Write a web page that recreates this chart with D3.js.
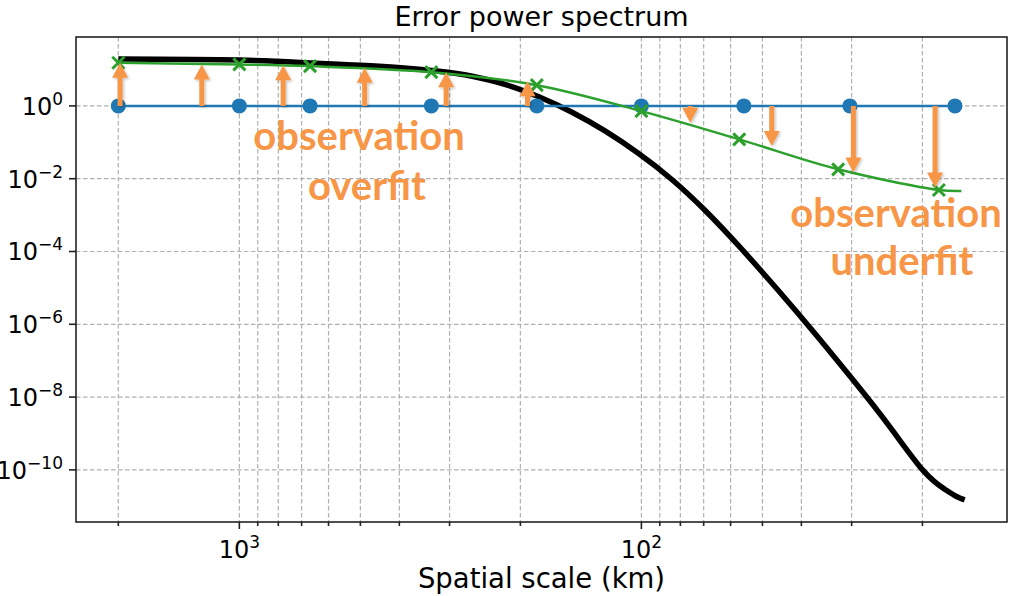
<!DOCTYPE html>
<html>
<head>
<meta charset="utf-8">
<script src="https://cdn.jsdelivr.net/npm/d3@7"></script>
<style>
  body { margin: 0; background: #fff; }
  svg { display: block; }
</style>
</head>
<body>
<svg id="chart" width="1009" height="596"></svg>
<script>
// ---- Data: spatial scale (km) and error power ----

// True error spectrum (black curve)
const trueScaleKm = [2000, 1000, 658, 449, 319, 263.5, 217.6, 179.9, 148.8, 122.9, 101.6, 84.0, 69.4, 57.4, 45.7, 36.75, 29.4, 24.1, 19.9, 17.6, 16.5, 15.7];
const truePower   = [19.4, 18.2, 15.1, 12.3, 8.97, 6.54, 3.87, 1.78, 0.671, 0.202, 0.0493, 9.53e-3, 1.34e-3, 1.47e-4, 8.65e-6, 5.09e-7, 2.51e-8, 1.52e-9, 9.5e-11, 2.93e-11, 1.88e-11, 1.49e-11];

// Observation error spectrum (blue, flat)
const obsScaleKm = [2000, 1000, 667, 333, 182, 100, 55.6, 30.3, 16.6];
const obsPower   = [1, 1, 1, 1, 1, 1, 1, 1, 1];

// Fitted spectrum (green curve and sampled points)
const fitCurveKm    = [2000, 1000, 667, 333, 182, 100, 57.1, 32.4, 18.2, 16.0];
const fitCurvePower = [15.3, 13.8, 12.4, 8.46, 3.72, 0.72, 0.1205, 0.0181, 0.0049, 0.0046];
const fitPointKm    = [2000, 1000, 667, 333, 182, 100, 57.1, 32.4, 18.2];
const fitPointPower = [15.3, 13.8, 12.4, 8.46, 3.72, 0.72, 0.1205, 0.0181, 0.0049];

// Arrows from the observation level to the fitted level
const arrowKm     = [1980, 1240, 778, 488, 306, 192, 75.6, 47.4, 29.7, 18.6];
const arrowTarget = [15.3, 13.8, 13.2, 11.2, 8.46, 4.79, 0.346, 0.0789, 0.0147, 0.0057];

// Ticks
const xMajorTicks = [1000, 100];
const xMajorExp   = ["3", "2"];
const xMinorTicks = [2000, 900, 800, 700, 600, 500, 400, 300, 200, 90, 80, 70, 60, 50, 40, 30, 20];
const yTicks      = [1, 1e-2, 1e-4, 1e-6, 1e-8, 1e-10];
const yTickExp    = ["0", "\u22122", "\u22124", "\u22126", "\u22128", "\u221210"];

const titleText  = "Error power spectrum";
const xLabelText = "Spatial scale (km)";
const overfitLines  = ["observation", "overfit"];
const underfitLines = ["observation", "underfit"];

// ---- Layout ----
const plot = { left: 76, right: 1007, top: 37, bottom: 522 };
const ORANGE = "#F79646";
const BLUE = "#1f77b4";
const GREEN = "#2ca02c";
const GRID = "#b0b0b0";
const FONT = "'DejaVu Sans', sans-serif";

const svg = d3.select("#chart");

// Log-space padding of 5% on each side of the data extent
function paddedLogDomain(values) {
  const lo = Math.log10(d3.min(values)), hi = Math.log10(d3.max(values));
  const pad = (hi - lo) * 0.05;
  return [Math.pow(10, lo - pad), Math.pow(10, hi + pad)];
}
const xd = paddedLogDomain(trueScaleKm);
const yd = paddedLogDomain(truePower);

// Spatial scale decreases to the right
const x = d3.scaleLog().domain([xd[1], xd[0]]).range([plot.left, plot.right]);
const y = d3.scaleLog().domain([yd[0], yd[1]]).range([plot.bottom, plot.top]);

// Shadow for the annotation arrows
const defs = svg.append("defs");
const shadow = defs.append("filter").attr("id", "arrowShadow")
  .attr("x", "-50%").attr("y", "-20%").attr("width", "200%").attr("height", "140%");
shadow.append("feDropShadow").attr("dx", 1.5).attr("dy", 1.5)
  .attr("stdDeviation", 1.2).attr("flood-color", "#000").attr("flood-opacity", 0.22);
defs.append("clipPath").attr("id", "plotClip").append("rect")
  .attr("x", plot.left).attr("y", plot.top)
  .attr("width", plot.right - plot.left).attr("height", plot.bottom - plot.top);

// ---- Grid ----
const grid = svg.append("g").attr("stroke", GRID).attr("stroke-width", 1.2)
  .attr("stroke-dasharray", "4.5,2.5").attr("fill", "none");
xMajorTicks.concat(xMinorTicks).forEach(v => {
  grid.append("line").attr("x1", x(v)).attr("x2", x(v))
    .attr("y1", plot.top).attr("y2", plot.bottom);
});
yTicks.forEach(v => {
  grid.append("line").attr("x1", plot.left).attr("x2", plot.right)
    .attr("y1", y(v)).attr("y2", y(v));
});

// ---- Series ----
const series = svg.append("g").attr("clip-path", "url(#plotClip)");
const smoothNatural = d3.line().curve(d3.curveNatural);
const smooth = d3.line().curve(d3.curveCatmullRom.alpha(0.5));

function toPts(kms, vals) {
  return kms.map((k, i) => [x(k), y(vals[i])]).sort((a, b) => a[0] - b[0]);
}

series.append("path")
  .attr("d", smoothNatural(toPts(trueScaleKm, truePower)))
  .attr("fill", "none").attr("stroke", "#000").attr("stroke-width", 5.5)
  .attr("stroke-linejoin", "round");

series.append("path")
  .attr("d", d3.line()(toPts(obsScaleKm, obsPower)))
  .attr("fill", "none").attr("stroke", BLUE).attr("stroke-width", 2.5);
series.selectAll("circle.obs").data(obsScaleKm).join("circle")
  .attr("class", "obs")
  .attr("cx", d => x(d)).attr("cy", (d, i) => y(obsPower[i])).attr("r", 7.5)
  .attr("fill", BLUE);

series.append("path")
  .attr("d", smooth(toPts(fitCurveKm, fitCurvePower)))
  .attr("fill", "none").attr("stroke", GREEN).attr("stroke-width", 2.5);
const mk = 6;
fitPointKm.forEach((k, i) => {
  const cx = x(k), cy = y(fitPointPower[i]);
  series.append("path")
    .attr("d", `M${cx - mk},${cy - mk}L${cx + mk},${cy + mk}M${cx - mk},${cy + mk}L${cx + mk},${cy - mk}`)
    .attr("stroke", GREEN).attr("stroke-width", 3).attr("fill", "none");
});

// ---- Arrows ----
const arrows = svg.append("g").attr("filter", "url(#arrowShadow)");
const shaftHalf = 2.5, headHalf = 8, headLen = 15;
arrowKm.forEach((k, i) => {
  const ax = x(k), y0 = y(obsPower[0]), y1 = y(arrowTarget[i]);
  const dir = y1 < y0 ? -1 : 1;              // -1: pointing up
  const len = Math.abs(y1 - y0);
  const hl = Math.min(headLen, len);
  const yh = y1 - dir * hl;                   // base of the head
  const pts = [
    [ax - shaftHalf, y0], [ax - shaftHalf, yh], [ax - headHalf, yh],
    [ax, y1], [ax + headHalf, yh], [ax + shaftHalf, yh], [ax + shaftHalf, y0]
  ];
  arrows.append("path").attr("d", "M" + pts.map(p => p.join(",")).join("L") + "Z")
    .attr("fill", ORANGE);
});

// ---- Axes frame and ticks ----
const axes = svg.append("g").attr("stroke", "#222").attr("stroke-width", 1.6);
axes.append("rect").attr("x", plot.left).attr("y", plot.top)
  .attr("width", plot.right - plot.left).attr("height", plot.bottom - plot.top)
  .attr("fill", "none");
xMajorTicks.forEach(v => axes.append("line").attr("x1", x(v)).attr("x2", x(v))
  .attr("y1", plot.bottom).attr("y2", plot.bottom + 7));
xMinorTicks.forEach(v => axes.append("line").attr("x1", x(v)).attr("x2", x(v))
  .attr("y1", plot.bottom).attr("y2", plot.bottom + 4));
yTicks.forEach(v => axes.append("line").attr("x1", plot.left - 7).attr("x2", plot.left)
  .attr("y1", y(v)).attr("y2", y(v)));

// Tick labels (10 with superscript exponent)
const TICK_FS = 24, SUP_FS = 17;
function powLabel(g, tx, ty, exp, anchor) {
  const t = g.append("text").attr("x", tx).attr("y", ty)
    .attr("text-anchor", anchor).attr("font-family", FONT)
    .attr("font-size", TICK_FS).attr("fill", "#000");
  t.append("tspan").text("10");
  t.append("tspan").attr("dy", -10).attr("font-size", SUP_FS).text(exp);
  return t;
}
const labels = svg.append("g");
xMajorTicks.forEach((v, i) => powLabel(labels, x(v), plot.bottom + 36, xMajorExp[i], "middle"));
yTicks.forEach((v, i) => powLabel(labels, plot.left - 13, y(v) + 9, yTickExp[i], "end"));

svg.append("text").attr("x", (plot.left + plot.right) / 2).attr("y", 26)
  .attr("text-anchor", "middle").attr("font-family", FONT).attr("font-size", 27)
  .attr("fill", "#000").text(titleText);
svg.append("text").attr("x", (plot.left + plot.right) / 2).attr("y", 588)
  .attr("text-anchor", "middle").attr("font-family", FONT).attr("font-size", 27.5)
  .attr("fill", "#000").text(xLabelText);

// ---- Annotations ----
function annotate(lines, cx, baselines, offsets) {
  lines.forEach((s, i) => {
    svg.append("text").attr("x", cx + offsets[i]).attr("y", baselines[i])
      .attr("text-anchor", "middle").attr("font-family", "Lato, sans-serif")
      .attr("font-weight", "bold").attr("font-size", 40).attr("fill", ORANGE)
      .text(s);
  });
}
annotate(overfitLines, 359, [150, 200], [0, 8]);
annotate(underfitLines, 896, [227, 275], [0, 6]);
</script>
</body>
</html>
